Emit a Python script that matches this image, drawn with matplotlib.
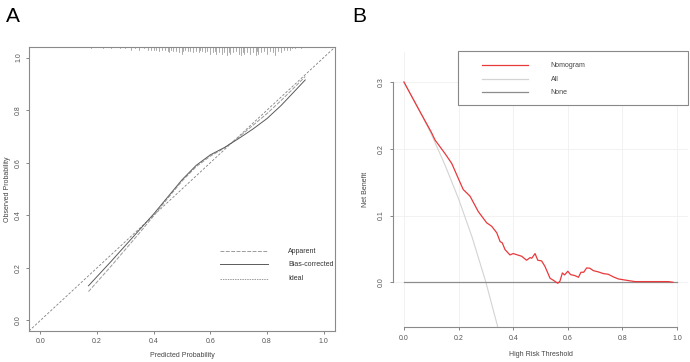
import matplotlib.pyplot as plt
from matplotlib.patches import Rectangle

plt.rcParams['font.family'] = ['Liberation Sans', 'DejaVu Sans']

# ---- panel A: calibration curve ----
cal_x = [0.17, 0.25, 0.30, 0.35, 0.40, 0.45, 0.50, 0.55, 0.60, 0.65, 0.70, 0.75, 0.80, 0.85, 0.90, 0.935]
bias_corrected = [0.132, 0.225, 0.285, 0.345, 0.405, 0.470, 0.535, 0.590, 0.630, 0.658, 0.692, 0.728, 0.768, 0.818, 0.875, 0.915]
apparent = [0.110, 0.207, 0.270, 0.333, 0.398, 0.465, 0.530, 0.585, 0.625, 0.656, 0.697, 0.742, 0.787, 0.837, 0.890, 0.928]

rug_x = [0.18, 0.22, 0.25, 0.28, 0.30, 0.32, 0.335, 0.35, 0.365, 0.38, 0.39, 0.40, 0.41,
         0.42, 0.43, 0.44, 0.45, 0.455, 0.46, 0.47, 0.48, 0.49, 0.50, 0.505, 0.51, 0.52,
         0.53, 0.54, 0.55, 0.56, 0.565, 0.57, 0.58, 0.59, 0.60, 0.61, 0.615, 0.62, 0.63,
         0.64, 0.65, 0.66, 0.665, 0.67, 0.68, 0.69, 0.70, 0.71, 0.715, 0.72, 0.73, 0.74,
         0.75, 0.76, 0.765, 0.77, 0.78, 0.79, 0.80, 0.81, 0.82, 0.83, 0.84, 0.85, 0.86,
         0.87, 0.88, 0.89, 0.90, 0.92]
rug_n = [1, 1, 1, 1, 1, 2, 1, 2, 1, 2, 2, 2, 2,
         3, 2, 2, 3, 4, 2, 3, 3, 4, 5, 3, 2, 3,
         3, 4, 3, 4, 2, 3, 4, 3, 5, 4, 3, 5, 4,
         5, 4, 6, 4, 5, 4, 3, 5, 6, 4, 5, 4, 5,
         4, 6, 3, 5, 4, 3, 5, 3, 4, 6, 3, 4, 2,
         2, 2, 1, 1, 1]

# ---- panel B: decision curve ----
thr = [0.0, 0.05, 0.10, 0.114, 0.15, 0.175, 0.205, 0.217, 0.242, 0.272, 0.303, 0.321, 0.34,
       0.352, 0.36, 0.37, 0.388, 0.40, 0.431, 0.449, 0.462, 0.468, 0.48, 0.49, 0.504,
       0.516, 0.535, 0.547, 0.563, 0.571, 0.58, 0.588, 0.60, 0.61, 0.626, 0.639, 0.648,
       0.658, 0.669, 0.681, 0.693, 0.712, 0.73, 0.748, 0.767, 0.785, 0.822, 0.846, 0.968, 0.985]
nomogram = [0.300, 0.262, 0.225, 0.213, 0.193, 0.178, 0.150, 0.139, 0.129, 0.106, 0.089, 0.084, 0.074,
            0.061, 0.059, 0.049, 0.041, 0.043, 0.039, 0.033, 0.037, 0.036, 0.043, 0.033, 0.032,
            0.024, 0.006, 0.003, -0.0015, 0.0015, 0.014, 0.011, 0.0165, 0.0115, 0.010, 0.0075, 0.015,
            0.015, 0.0215, 0.021, 0.0175, 0.0155, 0.013, 0.012, 0.008, 0.005, 0.0025, 0.001, 0.001, 0.0]
all_thr = [0.0, 0.05, 0.10, 0.15, 0.20, 0.25, 0.30, 0.35]
all_nb = [0.300, 0.263, 0.222, 0.176, 0.125, 0.067, 0.0, -0.077]
none_thr = [0.0, 1.0]
none_nb = [0.0, 0.0]

fig = plt.figure(figsize=(6.9, 3.62), dpi=100)

# ---------- A ----------
axA = fig.add_axes([0.042, 0.0856, 0.4435, 0.7844])
axA.set_xlim(-0.04, 1.04)
axA.set_ylim(-0.04, 1.04)
axA.plot([-0.04, 1.04], [-0.04, 1.04], color='#808080', lw=0.6, ls=(0, (3, 2)))
axA.plot(cal_x, apparent, color='#9a9a9a', lw=0.7, ls=(0, (4, 1.5)))
axA.plot(cal_x, bias_corrected, color='#5a5a5a', lw=0.7)
for x, n in zip(rug_x, rug_n):
    axA.plot([x, x], [1.04, 1.04 - n * 1.3 / 263], color='#8a8a8a', lw=0.5, clip_on=False)
for sp in axA.spines.values():
    sp.set_color('#8a8a8a')
    sp.set_linewidth(0.8)
axA.set_xticks([0.0, 0.2, 0.4, 0.6, 0.8, 1.0])
axA.set_yticks([0.0, 0.2, 0.4, 0.6, 0.8, 1.0])
axA.set_xticklabels(['0.0', '0.2', '0.4', '0.6', '0.8', '1.0'])
axA.set_yticklabels(['0.0', '0.2', '0.4', '0.6', '0.8', '1.0'], rotation=90, va='center')
axA.tick_params(labelsize=5, colors='#555555', length=2, width=0.5, pad=3)
axA.set_xlabel('Predicted Probability', fontsize=5, color='#444444', labelpad=5)
axA.set_ylabel('Observed Probability', fontsize=5, color='#444444', labelpad=3)
# legend A
leg_y = [0.263, 0.213, 0.159]
leg_lab = ['Apparent', 'Bias-corrected', 'Ideal']
leg_style = [('#9a9a9a', (0, (4, 1.5))), ('#5a5a5a', '-'), ('#9a9a9a', (0, (1.5, 1)))]
for y, lab, (c, ls) in zip(leg_y, leg_lab, leg_style):
    axA.plot([0.635, 0.805], [y, y], color=c, lw=0.7, ls=ls)
    axA.text(0.875, y, lab, fontsize=5, color='#333333', va='center')
fig.text(0.008, 0.955, 'A', fontsize=15, va='center')

# ---------- B ----------
axB = fig.add_axes([0.5696, 0.0967, 0.4275, 0.7597])
axB.set_xlim(-0.04, 1.04)
axB.set_ylim(-0.067, 0.345)
for v in [0.0, 0.2, 0.4, 0.6, 0.8, 1.0]:
    axB.axvline(v, color='#f0f0f0', lw=0.6, zorder=0)
for v in [0.0, 0.1, 0.2, 0.3]:
    axB.axhline(v, color='#f0f0f0', lw=0.6, zorder=0)
axB.plot(all_thr, all_nb, color='#d3d3d3', lw=0.8)
axB.plot(none_thr, none_nb, color='#8c8c8c', lw=0.9)
axB.plot(thr, nomogram, color='#e8393c', lw=0.9)
for s in ['top', 'right']:
    axB.spines[s].set_visible(False)
axB.spines['left'].set_bounds(0.0, 0.3)
axB.spines['bottom'].set_bounds(0.0, 1.0)
for s in ['left', 'bottom']:
    axB.spines[s].set_color('#8a8a8a')
    axB.spines[s].set_linewidth(0.8)
axB.set_xticks([0.0, 0.2, 0.4, 0.6, 0.8, 1.0])
axB.set_xticklabels(['0.0', '0.2', '0.4', '0.6', '0.8', '1.0'])
axB.set_yticks([0.0, 0.1, 0.2, 0.3])
axB.set_yticklabels(['0.0', '0.1', '0.2', '0.3'], rotation=90, va='center')
axB.tick_params(labelsize=5, colors='#555555', length=2, width=0.5, pad=4)
axB.set_xlabel('High Risk Threshold', fontsize=5, color='#444444', labelpad=6)
axB.set_ylabel('Net Benefit', fontsize=5, color='#444444', labelpad=6)
# legend B
axB.add_patch(Rectangle((0.22, 0.807), 0.78, 0.197, transform=axB.transAxes,
                        facecolor='white', edgecolor='#888888', lw=0.8, clip_on=False, zorder=5))
legB_y = [0.952, 0.900, 0.853]
legB_lab = ['Nomogram', 'All', 'None']
legB_col = ['#e8393c', '#d3d3d3', '#8c8c8c']
for y, lab, c in zip(legB_y, legB_lab, legB_col):
    axB.plot([0.30, 0.456], [y, y], color=c, lw=0.9, transform=axB.transAxes, clip_on=False, zorder=6)
    axB.text(0.535, y, lab, fontsize=5, color='#444444', va='center', transform=axB.transAxes, zorder=6)
fig.text(0.51, 0.955, 'B', fontsize=15, va='center')

fig.savefig('out.png', dpi=100)
